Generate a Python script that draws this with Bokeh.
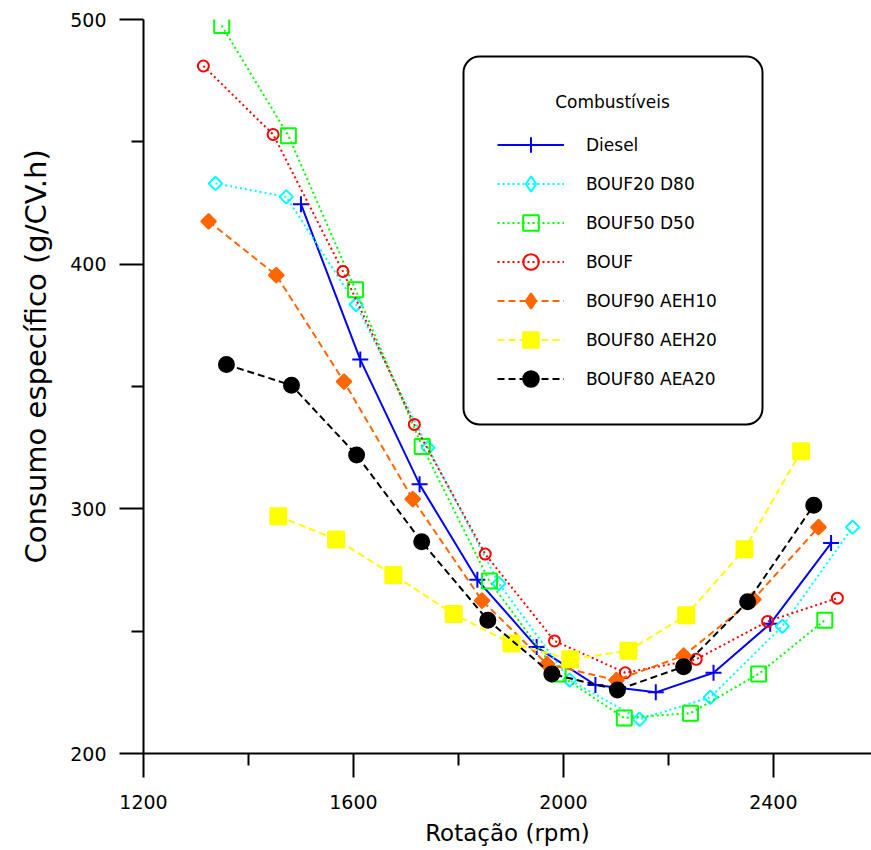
from math import pi
from bokeh.plotting import figure
from bokeh.models import (FixedTicker, Legend, LegendItem, Range1d, Title,
                          BoxAnnotation, Label)
from bokeh.embed import file_html
from bokeh.resources import INLINE

# ---- data ----
x_ticks = [1200, 1600, 2000, 2400]
x_minor = [1400, 1800, 2200]
y_ticks = [200, 300, 400, 500]
y_minor = [250, 350, 450]

names = ["Diesel", "BOUF20 D80", "BOUF50 D50", "BOUF", "BOUF90 AEH10", "BOUF80 AEH20", "BOUF80 AEA20"]

rpm_diesel = [1500, 1613, 1726, 1836, 1949, 2061, 2176, 2286, 2394, 2510]
diesel = [424.5, 361, 310, 271, 243.5, 228, 225, 233, 253, 286]

rpm_b20 = [1337, 1472, 1605, 1742, 1877, 2012, 2145, 2280, 2417, 2551]
b20 = [433, 427.5, 383.5, 325, 269.5, 230, 214, 223, 252, 292.5]

rpm_b50 = [1349, 1476, 1604, 1731, 1859, 1990, 2116, 2242, 2372, 2498]
b50 = [497.5, 452.5, 389.5, 325.5, 270.5, 232.5, 214.5, 216.5, 232.5, 254.5]

rpm_bouf = [1314, 1447, 1580, 1716, 1851, 1983, 2118, 2253, 2389, 2522]
bouf = [481, 453, 397, 334.5, 281.5, 246, 233, 238.5, 254, 263.5]

rpm_aeh10 = [1324, 1453, 1582, 1713, 1845, 1969, 2101, 2229, 2362, 2486]
aeh10 = [417.5, 395.5, 352, 304, 262.5, 236.5, 230, 240, 263, 292.5]

rpm_aeh20 = [1457, 1567, 1676, 1791, 1901, 2013, 2124, 2234, 2345, 2453]
aeh20 = [297, 287.5, 273, 257, 245, 238.5, 242, 256.5, 283.5, 323.5]

rpm_aea20 = [1358, 1482, 1606, 1730, 1856, 1978, 2103, 2229, 2351, 2477]
aea20 = [359, 350.5, 322, 286.5, 254.5, 232.5, 226, 235.5, 262, 301.5]

xs_all = [rpm_diesel, rpm_b20, rpm_b50, rpm_bouf, rpm_aeh10, rpm_aeh20, rpm_aea20]
ys_all = [diesel, b20, b50, bouf, aeh10, aeh20, aea20]

# ---- styles ----
colors = ["#0000FF", "#00FFFF", "#00FF00", "#FF0000", "#FF6600", "#FFFF00", "#000000"]
dashes = ["solid", "2 3", "2 3", "2 3", "7 4", "7 4", "7 4"]
markers = ["cross", "square", "square", "circle", "square", "square", "circle"]
legend_markers = ["cross", "diamond", "square", "circle", "diamond", "square", "circle"]
angles = [0, pi / 4, 0, 0, pi / 4, 0, 0]
sizes = [16, 9.5, 15, 11, 10.5, 16, 15]
filled = [False, False, False, False, True, True, True]

FONT = "DejaVu Sans"
NAN = float("nan")

p = figure(width=871, height=850, title=None,
           x_range=Range1d(1200, 2587), y_range=Range1d(200, 500),
           output_backend="svg", toolbar_location=None,
           min_border_left=143, min_border_right=0,
           min_border_top=19, min_border_bottom=97)
p.outline_line_color = None
p.xgrid.visible = False
p.ygrid.visible = False
p.background_fill_color = "white"
p.border_fill_color = "white"

p.xaxis.ticker = FixedTicker(ticks=x_ticks, minor_ticks=x_minor)
p.yaxis.ticker = FixedTicker(ticks=y_ticks, minor_ticks=y_minor)
for ax in (p.xaxis, p.yaxis):
    ax.axis_line_width = 2
    ax.axis_line_color = "black"
    ax.major_tick_line_width = 2
    ax.minor_tick_line_width = 2
    ax.major_tick_line_color = "black"
    ax.minor_tick_line_color = "black"
    ax.major_tick_in = 0
    ax.major_tick_out = 24
    ax.minor_tick_in = 0
    ax.minor_tick_out = 12
    ax.major_label_text_font = FONT
    ax.major_label_text_font_size = "19px"
    ax.major_label_text_color = "black"
p.yaxis.major_label_standoff = 13
p.xaxis.major_label_standoff = 17

p.xaxis.axis_label = "Rotação (rpm)"
p.xaxis.axis_label_text_font = FONT
p.xaxis.axis_label_text_font_size = "23px"
p.xaxis.axis_label_text_font_style = "normal"
p.xaxis.axis_label_text_color = "black"
p.xaxis.axis_label_standoff = 8

# y-axis title: left side, starting well above the bottom like the reference
ytitle = Title(text="Consumo específico (g/CV.h)", align="left", offset=190,
               text_font=FONT, text_font_size="29px", text_font_style="normal",
               text_color="black", standoff=30)
p.add_layout(ytitle, "left")

items = []
for i in range(len(names)):
    fill = colors[i] if filled[i] else None
    lr = p.line(xs_all[i], ys_all[i], line_color=colors[i], line_width=2,
                line_dash=dashes[i])
    sr = p.scatter(xs_all[i], ys_all[i], marker=markers[i], size=sizes[i],
                   angle=angles[i], line_color=colors[i], line_width=2,
                   fill_color=fill)
    if legend_markers[i] != markers[i]:
        # legend key only (draws nothing in the plot); the legend ignores marker angle
        key = p.scatter(x=[NAN], y=[NAN], marker=legend_markers[i], size=sizes[i],
                        line_color=colors[i], line_width=2, fill_color=fill)
    else:
        key = sr
    items.append(LegendItem(label=names[i], renderers=[lr, key]))

# legend frame (rounded box), drawn first so the legend sits on top of it
box = BoxAnnotation(left=320, right=619, top=697, bottom=329,
                    left_units="screen", right_units="screen",
                    top_units="screen", bottom_units="screen",
                    fill_color="white", fill_alpha=1.0,
                    line_color="black", line_width=2, line_alpha=1.0)
if "border_radius" in BoxAnnotation.properties():
    box.border_radius = 16
p.add_layout(box)

legend = Legend(items=items, location=(354, 355),
                label_text_font=FONT, label_text_font_size="17px",
                label_text_color="black",
                padding=0, margin=0, spacing=0,
                glyph_width=67, glyph_height=39, label_height=39,
                label_standoff=22,
                border_line_color=None, background_fill_alpha=0.0)
p.add_layout(legend)

p.add_layout(Label(x=469, y=652, x_units="screen", y_units="screen",
                   text="Combustíveis", text_align="center", text_baseline="middle",
                   text_font=FONT, text_font_size="17px", text_color="black"))

open("out.html", "w").write(file_html(p, INLINE))
